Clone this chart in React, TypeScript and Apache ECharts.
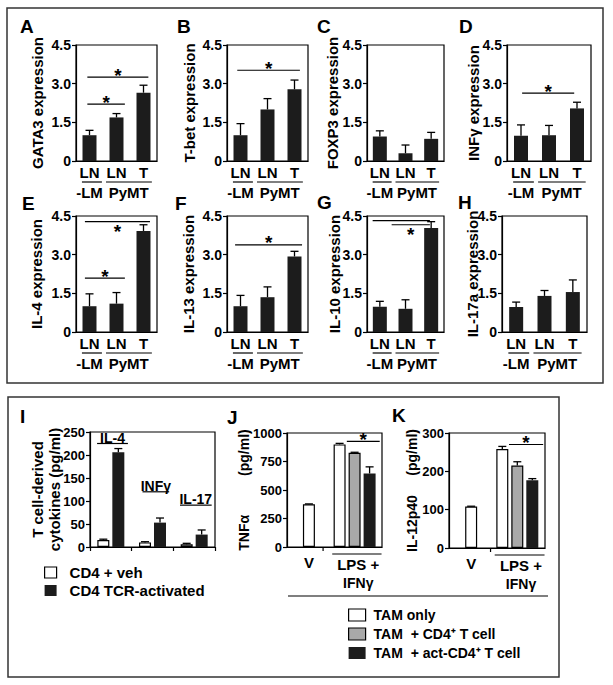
import React, { useEffect, useRef } from "react";
import * as echarts from "echarts";

const FONT = "'Liberation Sans', Arial, Helvetica, sans-serif";

// ---------------- Data: panels A–H (relative expression, mean and SEM) ----------------
const tissueCategories = ["LN", "LN", "T"];
const tissueGroupLabels = ["-LM", "PyMT"];
const expressionTicks = [0, 1.5, 3.0, 4.5];

const gata3Mean = [1.0, 1.69, 2.65];
const gata3Sem = [0.19, 0.15, 0.29];
const tbetMean = [1.0, 2.0, 2.78];
const tbetSem = [0.45, 0.42, 0.36];
const foxp3Mean = [0.95, 0.3, 0.86];
const foxp3Sem = [0.22, 0.32, 0.25];
const infgMean = [0.98, 1.0, 2.04];
const infgSem = [0.42, 0.38, 0.24];
const il4Mean = [1.0, 1.1, 3.92];
const il4Sem = [0.48, 0.43, 0.24];
const il13Mean = [1.0, 1.35, 2.93];
const il13Sem = [0.42, 0.4, 0.2];
const il10Mean = [0.98, 0.9, 4.03];
const il10Sem = [0.21, 0.35, 0.25];
const il17aMean = [0.97, 1.4, 1.55];
const il17aSem = [0.19, 0.21, 0.47];

// significance brackets: [from, to, height, star: 0 none / 1 above / 2 below]
const gata3Sig = [[-0.08, 2.18, 3.25, 1], [-0.08, 1.31, 2.21, 1]];
const tbetSig = [[-0.12, 2.2, 3.52, 1]];
const foxp3Sig: number[][] = [];
const infgSig = [[0.04, 1.9, 2.63, 1]];
const il4Sig = [[-0.17, 2.24, 4.28, 2], [-0.17, 1.31, 2.09, 1]];
const il13Sig = [[-0.2, 2.28, 3.38, 1]];
const il10Sig = [[-0.28, 1.95, 4.32, 0], [0.46, 1.95, 4.16, 2]];
const il17aSig: number[][] = [];

// ---------------- Data: panel I (pg/ml) ----------------
const cytokines = ["IL-4", "INFγ", "IL-17"];
const cytokineTicks = [0, 50, 100, 150, 200, 250];
const cd4VehMean = [15, 10, 6];
const cd4VehSem = [2, 1.5, 2];
const cd4ActMean = [206, 53, 27];
const cd4ActSem = [8, 10, 10];

// ---------------- Data: panels J and K (pg/ml) ----------------
const stimulationLines = [["V"], ["LPS +", "IFNγ"]];
const tnfTicks = [0, 250, 500, 750, 1000];
const tnfTamOnly = [375, 900];
const tnfTamOnlySem = [3, 9];
const tnfTamCd4 = [null, 826];
const tnfTamCd4Sem = [null, 5];
const tnfTamAct = [null, 645];
const tnfTamActSem = [null, 58];
const tnfSig = [[0.83, 1.55, 927, 1]];

const il12Ticks = [0, 100, 200, 300];
const il12TamOnly = [108, 258];
const il12TamOnlySem = [1, 7];
const il12TamCd4 = [null, 215];
const il12TamCd4Sem = [null, 10];
const il12TamAct = [null, 177];
const il12TamActSem = [null, 4];
const il12Sig = [[0.82, 1.56, 270, 1]];

const legendVeh = "CD4 + veh";
const legendAct = "CD4 TCR-activated";
const legendTamOnly = "TAM only";
const legendTamCd4 = "TAM  + CD4⁺ T cell";
const legendTamAct = "TAM  + act-CD4⁺ T cell";

const exprPanels = [
  { letter: "A", name: "GATA3 expression", mean: gata3Mean, sem: gata3Sem, sig: gata3Sig },
  { letter: "B", name: "T-bet expression", mean: tbetMean, sem: tbetSem, sig: tbetSig },
  { letter: "C", name: "FOXP3 expression", mean: foxp3Mean, sem: foxp3Sem, sig: foxp3Sig },
  { letter: "D", name: "INFγ expression", mean: infgMean, sem: infgSem, sig: infgSig },
  { letter: "E", name: "IL-4 expression", mean: il4Mean, sem: il4Sem, sig: il4Sig },
  { letter: "F", name: "IL-13 expression", mean: il13Mean, sem: il13Sem, sig: il13Sig },
  { letter: "G", name: "IL-10 expression", mean: il10Mean, sem: il10Sem, sig: il10Sig },
  { letter: "H", name: "IL-17a expression", mean: il17aMean, sem: il17aSem, sig: il17aSig },
];

// ---------------- Layout (pixels / axis units) ----------------
const TOP_LAYOUT = [
  { left: 76, top: 45, width: 81, nameGap: 30, lx: 20, ly: 27 },
  { left: 227, top: 45, width: 81, nameGap: 29, lx: 177, ly: 27 },
  { left: 367, top: 45, width: 77, nameGap: 26, lx: 317, ly: 27 },
  { left: 507, top: 45, width: 84, nameGap: 25, lx: 459, ly: 27 },
  { left: 76, top: 216, width: 81, nameGap: 31, lx: 22, ly: 204 },
  { left: 227, top: 216, width: 81, nameGap: 30, lx: 175, ly: 204 },
  { left: 367, top: 216, width: 77, nameGap: 24, lx: 317, ly: 203 },
  { left: 502, top: 216, width: 85, nameGap: 21, lx: 458, ly: 203 },
];
const TOP_H = 116;
const TISSUE_SPANS = [[-0.28, 0.46, 0], [0.61, 2.31, 1.45]];
const I_LABEL_SPANS = [[-0.33, 0.41, 225], [0.76, 1.4, 120], [1.66, 2.42, 91]];
const BLACK = "#1c1c1c";
const GRAY = "#a9a9a9";

const txt = (size: number) => ({ fontFamily: FONT, fontWeight: "bold" as const, fontSize: size, color: "#000" });
const ttxt = (size: number) => ({ fontFamily: FONT, fontWeight: "bold" as const, fontSize: size, fill: "#000" });

function buildOption() {
  const grid: any[] = [];
  const xAxis: any[] = [];
  const yAxis: any[] = [];
  const series: any[] = [];
  const graphic: any[] = [];

  const addGrid = (g: any) => {
    grid.push({ ...g, show: true, borderColor: "#000", borderWidth: 1.2, backgroundColor: "transparent", containLabel: false, outerBoundsMode: "none" });
    return grid.length - 1;
  };
  const addX = (a: any) => { xAxis.push(a); return xAxis.length - 1; };
  const addY = (a: any) => { yAxis.push(a); return yAxis.length - 1; };

  const yDef = (gi: number, ticks: number[], name: string, nameGap: number, nameSize: number, labelSize: number, fmt: (v: number) => string) => ({
    type: "value", gridIndex: gi, min: ticks[0], max: ticks[ticks.length - 1], interval: ticks[1] - ticks[0],
    axisLine: { show: true, onZero: false, lineStyle: { color: "#000", width: 1.2 } },
    axisTick: { show: true, length: 4, inside: false, lineStyle: { color: "#000", width: 1.2 } },
    axisLabel: { margin: 5, formatter: fmt, ...txt(labelSize) },
    splitLine: { show: false },
    name, nameLocation: "middle", nameGap, nameRotate: 90, nameMoveOverlap: false,
    nameTextStyle: { ...txt(nameSize), lineHeight: 17 },
  });
  const hiddenX = (gi: number, min: number, max: number) => ({ type: "value", gridIndex: gi, min, max, show: false, axisLine: { onZero: false }, splitLine: { show: false } });

  const errorSeries = (xi: number, yi: number, xs: number[], means: any[], sems: any[], offset: number) => ({
    type: "custom", xAxisIndex: xi, yAxisIndex: yi, silent: true, z: 3,
    data: means.map((m, i) => (m == null ? [xs[i], "-", "-"] : [xs[i], m, m + sems[i]])),
    renderItem: (p: any, api: any) => {
      const v1 = api.value(1);
      if (isNaN(v1)) return null;
      const b = api.coord([api.value(0), v1]);
      const t = api.coord([api.value(0), api.value(2)]);
      const cx = b[0] + offset;
      const st = { stroke: "#000", lineWidth: 1.3 };
      return {
        type: "group", children: [
          { type: "line", shape: { x1: cx, y1: b[1], x2: cx, y2: t[1] }, style: st },
          { type: "line", shape: { x1: cx - 4, y1: t[1], x2: cx + 4, y2: t[1] }, style: st },
        ],
      };
    },
  });

  const sigSeries = (xi: number, yi: number, sig: number[][]) => ({
    type: "custom", xAxisIndex: xi, yAxisIndex: yi, silent: true, z: 4,
    data: sig.map((s) => [s[0], s[1], s[2], s[3]]),
    renderItem: (p: any, api: any) => {
      const a = api.coord([api.value(0), api.value(2)]);
      const b = api.coord([api.value(1), api.value(2)]);
      const mode = api.value(3);
      const children: any[] = [
        { type: "line", shape: { x1: a[0], y1: a[1], x2: b[0], y2: b[1] }, style: { stroke: "#000", lineWidth: 1.2 } },
      ];
      if (mode) {
        children.push({
          type: "text",
          style: { text: "*", x: (a[0] + b[0]) / 2, y: mode === 1 ? a[1] - 2 : a[1] + 10, align: "center", verticalAlign: "middle", ...ttxt(19) },
        });
      }
      return { type: "group", children };
    },
  });

  // ---------- Panels A–H ----------
  exprPanels.forEach((pn, k) => {
    const L = TOP_LAYOUT[k];
    const gi = addGrid({ left: L.left, top: L.top, width: L.width, height: TOP_H });
    const xc = addX({
      type: "category", gridIndex: gi, data: tissueCategories,
      axisLine: { show: true, onZero: false, lineStyle: { color: "#000", width: 1.2 } },
      axisTick: { show: false },
      axisLabel: { interval: 0, margin: 4, ...txt(15) },
      splitLine: { show: false },
    });
    const xv = addX({ ...hiddenX(gi, -0.5, tissueCategories.length - 0.5), position: "top" });
    const yi = addY(yDef(gi, expressionTicks, pn.name, L.nameGap, 15, 14, (v) => (v === 0 ? "0" : v.toFixed(1))));
    series.push({
      type: "bar", name: pn.name, xAxisIndex: xc, yAxisIndex: yi, data: pn.mean, barWidth: 14,
      itemStyle: { color: BLACK }, silent: true,
    });
    series.push(errorSeries(xv, yi, pn.mean.map((_, i) => i), pn.mean, pn.sem, 0));
    if (pn.sig.length) series.push(sigSeries(xv, yi, pn.sig));
    series.push({
      type: "custom", xAxisIndex: xv, yAxisIndex: yi, silent: true,
      data: TISSUE_SPANS.map((s) => [s[0], s[1], s[2]]),
      renderItem: (p: any, api: any) => {
        const a = api.coord([api.value(0), 0]);
        const b = api.coord([api.value(1), 0]);
        const c = api.coord([api.value(2), 0]);
        return {
          type: "group", children: [
            { type: "line", shape: { x1: a[0], y1: a[1] + 21, x2: b[0], y2: b[1] + 21 }, style: { stroke: "#000", lineWidth: 1.2 } },
            { type: "text", style: { text: tissueGroupLabels[p.dataIndex], x: c[0], y: c[1] + 31, align: "center", verticalAlign: "middle", ...ttxt(15) } },
          ],
        };
      },
    });
    graphic.push({ type: "text", left: L.lx, top: L.ly - 10, style: { text: pn.letter, ...ttxt(19) } });
  });

  // ---------- Panel I ----------
  {
    const gi = addGrid({ left: 90, top: 432, width: 125, height: 115 });
    const xc = addX({
      type: "category", gridIndex: gi, data: cytokines,
      axisLine: { show: true, onZero: false, lineStyle: { color: "#000", width: 1.2 } },
      axisTick: { show: true, length: 4, lineStyle: { color: "#000", width: 1.2 } },
      axisLabel: { show: false },
      splitLine: { show: false },
    });
    const xv = addX({ ...hiddenX(gi, -0.5, cytokines.length - 0.5), position: "top" });
    const yi = addY(yDef(gi, cytokineTicks, "T cell-derived\ncytokines (pg/ml)", 27, 15, 13, (v) => String(v)));
    series.push({
      type: "bar", name: legendVeh, xAxisIndex: xc, yAxisIndex: yi, data: cd4VehMean, barWidth: 12, barGap: "25%",
      itemStyle: { color: "#fff", borderColor: "#000", borderWidth: 1.2 }, silent: true,
    });
    series.push({
      type: "bar", name: legendAct, xAxisIndex: xc, yAxisIndex: yi, data: cd4ActMean, barWidth: 12, barGap: "25%",
      itemStyle: { color: BLACK }, silent: true,
    });
    const xs = cytokines.map((_, i) => i);
    series.push(errorSeries(xv, yi, xs, cd4VehMean, cd4VehSem, -7.5));
    series.push(errorSeries(xv, yi, xs, cd4ActMean, cd4ActSem, 7.5));
    series.push({
      type: "custom", xAxisIndex: xv, yAxisIndex: yi, silent: true,
      data: I_LABEL_SPANS.map((s) => [s[0], s[1], s[2]]),
      renderItem: (p: any, api: any) => {
        const a = api.coord([api.value(0), api.value(2)]);
        const b = api.coord([api.value(1), api.value(2)]);
        return {
          type: "group", children: [
            { type: "line", shape: { x1: a[0], y1: a[1], x2: b[0], y2: b[1] }, style: { stroke: "#000", lineWidth: 1.2 } },
            { type: "text", style: { text: cytokines[p.dataIndex], x: (a[0] + b[0]) / 2, y: a[1] - 6, align: "center", verticalAlign: "middle", ...ttxt(14) } },
          ],
        };
      },
    });
    graphic.push({ type: "text", left: 20, top: 407, style: { text: "I", ...ttxt(19) } });
  }

  // ---------- Panels J and K ----------
  const stimPanels = [
    { letter: "J", lx: 227, ly: 408, left: 287, top: 433, width: 95, height: 114, ticks: tnfTicks, name: "TNFα          (pg/ml)", nameGap: 35,
      only: tnfTamOnly, onlySem: tnfTamOnlySem, cd4: tnfTamCd4, cd4Sem: tnfTamCd4Sem, act: tnfTamAct, actSem: tnfTamActSem, sig: tnfSig, tick: 0.31 },
    { letter: "K", lx: 392, ly: 406, left: 449, top: 433, width: 96, height: 115, ticks: il12Ticks, name: "IL-12p40     (pg/ml)", nameGap: 29,
      only: il12TamOnly, onlySem: il12TamOnlySem, cd4: il12TamCd4, cd4Sem: il12TamCd4Sem, act: il12TamAct, actSem: il12TamActSem, sig: il12Sig, tick: 0.42 },
  ];
  stimPanels.forEach((sp) => {
    const gi = addGrid({ left: sp.left, top: sp.top, width: sp.width, height: sp.height });
    const xmin = -0.48, xmax = 1.6;
    const xm = addX({
      type: "value", gridIndex: gi, min: xmin, max: xmax,
      axisLine: { show: true, onZero: false, lineStyle: { color: "#000", width: 1.2 } },
      axisTick: { show: false }, axisLabel: { show: false }, splitLine: { show: false },
    });
    const xvv = addX({ ...hiddenX(gi, xmin, xmax), position: "top" });
    const yi = addY(yDef(gi, sp.ticks, sp.name, sp.nameGap, 14, 13, (v) => String(v)));
    const pt = (arr: any[], idx: number) => [[idx, arr[idx]]];
    series.push({ type: "bar", name: legendTamOnly, xAxisIndex: xvv, yAxisIndex: yi, data: pt(sp.only, 0), barWidth: 12,
      itemStyle: { color: "#fff", borderColor: "#000", borderWidth: 1.2 }, silent: true });
    series.push({ type: "bar", name: legendTamOnly, xAxisIndex: xm, yAxisIndex: yi, data: pt(sp.only, 1), barWidth: 12, barGap: "25%",
      itemStyle: { color: "#fff", borderColor: "#000", borderWidth: 1.2 }, silent: true });
    series.push({ type: "bar", name: legendTamCd4, xAxisIndex: xm, yAxisIndex: yi, data: pt(sp.cd4, 1), barWidth: 12, barGap: "25%",
      itemStyle: { color: GRAY, borderColor: "#000", borderWidth: 1.2 }, silent: true });
    series.push({ type: "bar", name: legendTamAct, xAxisIndex: xm, yAxisIndex: yi, data: pt(sp.act, 1), barWidth: 12, barGap: "25%",
      itemStyle: { color: BLACK }, silent: true });
    series.push(errorSeries(xvv, yi, [0], [sp.only[0]], [sp.onlySem[0]], 0));
    series.push(errorSeries(xm, yi, [1], [sp.only[1]], [sp.onlySem[1]], -15));
    series.push(errorSeries(xm, yi, [1], [sp.cd4[1]], [sp.cd4Sem[1]], 0));
    series.push(errorSeries(xm, yi, [1], [sp.act[1]], [sp.actSem[1]], 15));
    series.push(sigSeries(xm, yi, sp.sig));
    const tickX = sp.tick;
    series.push({
      type: "custom", xAxisIndex: xm, yAxisIndex: yi, silent: true,
      data: [[0, 0]],
      renderItem: (p: any, api: any) => {
        const o = api.coord([0, 0]);
        const ax = o[1];
        const tk = api.coord([tickX, 0]);
        const u1 = api.coord([0.51, 0]);
        const u2 = api.coord([1.59, 0]);
        const lp = api.coord([1.08, 0]);
        const st = { stroke: "#000", lineWidth: 1.2 };
        return {
          type: "group", children: [
            { type: "line", shape: { x1: tk[0], y1: ax, x2: tk[0], y2: ax + 4 }, style: st },
            { type: "line", shape: { x1: u1[0], y1: ax + 7, x2: u2[0], y2: ax + 7 }, style: st },
            { type: "text", style: { text: stimulationLines[0][0], x: o[0], y: ax + 15, align: "center", verticalAlign: "middle", ...ttxt(15) } },
            { type: "text", style: { text: stimulationLines[1][0], x: lp[0], y: ax + 17, align: "center", verticalAlign: "middle", ...ttxt(15) } },
            { type: "text", style: { text: stimulationLines[1][1], x: lp[0], y: ax + 36, align: "center", verticalAlign: "middle", ...ttxt(14) } },
          ],
        };
      },
    });
    graphic.push({ type: "text", left: sp.lx, top: sp.ly, style: { text: sp.letter, ...ttxt(19) } });
  });

  // frames and dividing line
  graphic.push({ type: "rect", shape: { x: 7, y: 8, width: 596, height: 375 }, style: { fill: "none", stroke: "#333", lineWidth: 1.5 }, z: -1 });
  graphic.push({ type: "rect", shape: { x: 8, y: 397, width: 551, height: 280 }, style: { fill: "none", stroke: "#333", lineWidth: 1.5 }, z: -1 });
  graphic.push({ type: "line", shape: { x1: 288, y1: 596, x2: 548, y2: 596 }, style: { stroke: "#000", lineWidth: 1.2 } });

  const legendText = (size: number, pad: number) => ({ ...txt(size), padding: [0, 0, 0, pad] });
  const legend = [
    {
      data: [
        { name: legendVeh, itemStyle: { color: "#fff", borderColor: "#000", borderWidth: 1.2 } },
        { name: legendAct, itemStyle: { color: BLACK, borderWidth: 0 } },
      ],
      orient: "vertical", left: 44, top: 565, itemWidth: 12, itemHeight: 11, itemGap: 3, icon: "rect",
      selectedMode: false, textStyle: legendText(15, 8), padding: 0,
    },
    {
      data: [
        { name: legendTamOnly, itemStyle: { color: "#fff", borderColor: "#000", borderWidth: 1.2 } },
        { name: legendTamCd4, itemStyle: { color: GRAY, borderColor: "#000", borderWidth: 1.2 } },
        { name: legendTamAct, itemStyle: { color: BLACK, borderWidth: 0 } },
      ],
      orient: "vertical", left: 348, top: 608, itemWidth: 17, itemHeight: 12, itemGap: 5, icon: "rect",
      selectedMode: false, textStyle: legendText(14, 3), padding: 0,
    },
  ];

  return {
    animation: false,
    backgroundColor: "#fff",
    textStyle: { fontFamily: FONT },
    tooltip: { show: false },
    grid, xAxis, yAxis, series, legend, graphic,
  };
}

export default function App() {
  const ref = useRef<HTMLDivElement>(null);
  useEffect(() => {
    if (!ref.current) return;
    const chart = echarts.init(ref.current, null, { renderer: "svg" });
    chart.setOption(buildOption() as any);
    return () => chart.dispose();
  }, []);
  return (
    <div
      ref={ref}
      style={{ position: "absolute", left: 0, top: 0, width: 613, height: 685, background: "#fff" }}
    />
  );
}
